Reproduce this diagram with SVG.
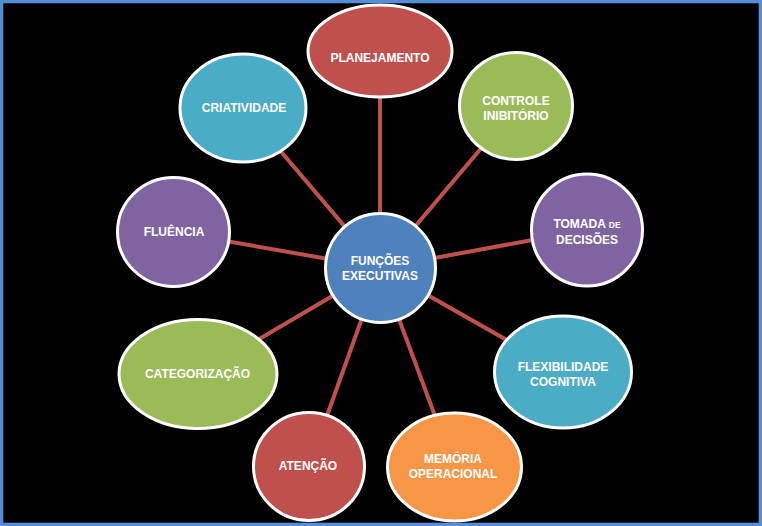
<svg xmlns="http://www.w3.org/2000/svg" width="762" height="526" viewBox="0 0 762 526">
<style>
.bg{fill:#000}
.frame{fill:none;stroke:#558ED5;stroke-width:3.3}
.edge{stroke:#C0504D;stroke-width:4;fill:none}
.n{stroke:#fff;stroke-width:3}
.red{fill:#C0504D}.green{fill:#9BBB59}.purple{fill:#8064A2}.aqua{fill:#4BACC6}.orange{fill:#F79646}.blue{fill:#4F81BD}
text{font-family:"Liberation Sans",Arial,sans-serif;font-weight:bold;font-size:12px;fill:#fff;text-anchor:middle}
.sm{font-size:8.5px}
</style>
<rect class="bg" x="0" y="0" width="762" height="526"/>
<g id="connectors">
<line class="edge" x1="380" y1="268" x2="380" y2="51"/>
<line class="edge" x1="380" y1="268" x2="516" y2="107"/>
<line class="edge" x1="380" y1="268" x2="587" y2="230"/>
<line class="edge" x1="380" y1="268" x2="563" y2="372"/>
<line class="edge" x1="380" y1="268" x2="454" y2="467"/>
<line class="edge" x1="380" y1="268" x2="309" y2="466"/>
<line class="edge" x1="380" y1="268" x2="198" y2="375"/>
<line class="edge" x1="380" y1="268" x2="174" y2="232"/>
<line class="edge" x1="380" y1="268" x2="243" y2="107"/>
</g>
<g id="planejamento"><ellipse class="n red" cx="380" cy="51" rx="72" ry="46"/><text x="380" y="62">PLANEJAMENTO</text></g>
<g id="controle"><ellipse class="n green" cx="516" cy="106" rx="56.5" ry="53.5"/><text x="516" y="105">CONTROLE</text><text x="516" y="120">INIBITÓRIO</text></g>
<g id="tomada"><ellipse class="n purple" cx="587" cy="230" rx="55.5" ry="56"/><text x="587" y="228">TOMADA <tspan class="sm">DE</tspan></text><text x="587" y="244">DECISÕES</text></g>
<g id="flexibilidade"><ellipse class="n aqua" cx="563" cy="372" rx="68.5" ry="56"/><text x="563" y="371">FLEXIBILIDADE</text><text x="563" y="386">COGNITIVA</text></g>
<g id="memoria"><ellipse class="n orange" cx="454.5" cy="467" rx="67" ry="54"/><text x="453" y="463">MEMÓRIA</text><text x="453" y="478">OPERACIONAL</text></g>
<g id="atencao"><ellipse class="n red" cx="309" cy="466.5" rx="55.5" ry="54"/><text x="308" y="470">ATENÇÃO</text></g>
<g id="categorizacao"><ellipse class="n green" cx="198" cy="374" rx="79" ry="54.5"/><text x="197.5" y="378">CATEGORIZAÇÃO</text></g>
<g id="fluencia"><ellipse class="n purple" cx="173.5" cy="232" rx="56" ry="54.5"/><text x="174" y="236">FLUÊNCIA</text></g>
<g id="criatividade"><ellipse class="n aqua" cx="243" cy="108" rx="63" ry="54"/><text x="244" y="112">CRIATIVIDADE</text></g>
<g id="funcoes"><ellipse class="n blue" cx="380.5" cy="268" rx="55" ry="54.5"/><text x="380" y="265">FUNÇÕES</text><text x="380" y="280">EXECUTIVAS</text></g>
<rect class="frame" x="1.65" y="1.65" width="758.7" height="522.7"/>
</svg>
